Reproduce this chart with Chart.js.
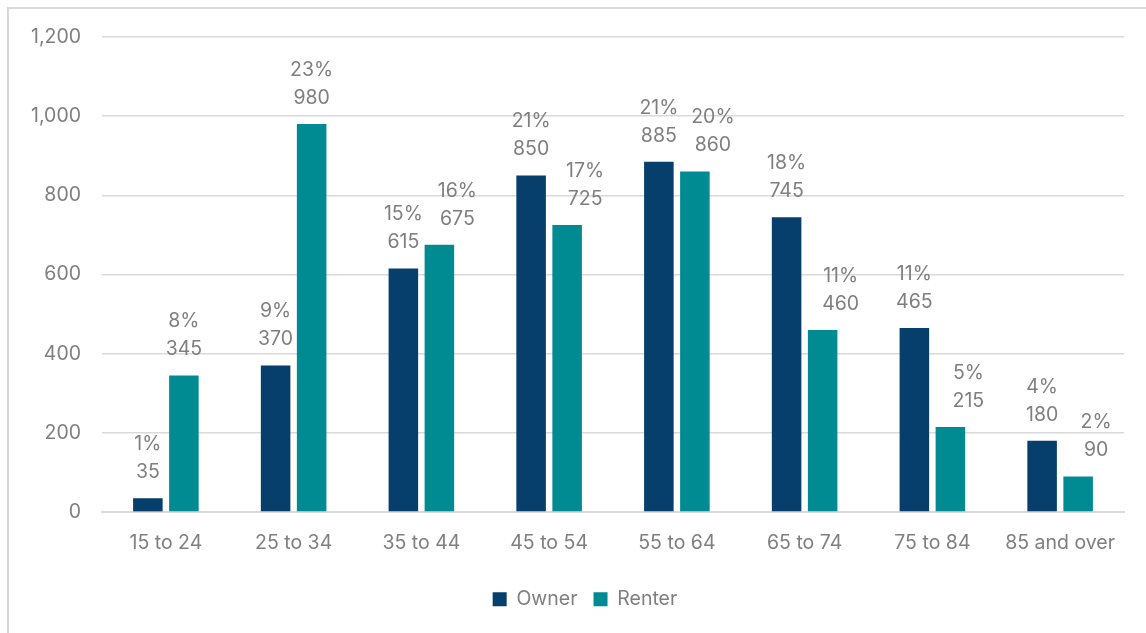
<!DOCTYPE html>
<html lang="en">
<head>
    <meta charset="UTF-8">
    <title>Owner and Renter by Age</title>
    <script src="https://cdn.jsdelivr.net/npm/chart.js"></script>
    <style>
        body {
            margin: 0;
            padding: 0;
            background: #ffffff;
            overflow: hidden;
        }
        .frame {
            position: absolute;
            left: 7px;
            top: 7px;
            width: 1150px;
            height: 640px;
            border-left: 2px solid #d9d9d9;
            border-top: 2px solid #d9d9d9;
        }
        #chartWrap {
            position: absolute;
            left: 0;
            top: 0;
            width: 1146px;
            height: 633px;
        }
    </style>
</head>
<body>
    <div class="frame"></div>
    <div id="chartWrap">
        <canvas id="ageChart" width="1146" height="633"></canvas>
    </div>
    <script>
        const ageGroups = ['15 to 24', '25 to 34', '35 to 44', '45 to 54', '55 to 64', '65 to 74', '75 to 84', '85 and over'];
        const ownerValues = [35, 370, 615, 850, 885, 745, 465, 180];
        const renterValues = [345, 980, 675, 725, 860, 460, 215, 90];
        const ownerShare = ['1%', '9%', '15%', '21%', '21%', '18%', '11%', '4%'];
        const renterShare = ['8%', '23%', '16%', '17%', '20%', '11%', '5%', '2%'];
        const yTicks = [0, 200, 400, 600, 800, 1000, 1200];

        const textColor = '#7f7f7f';
        const fontFamily = 'Inter, "Open Sans", sans-serif';
        const fontSize = 19.5;

        // two line label above each bar: share on top, count below.
        // renter labels slide right when they would sit among the owner labels
        const barLabels = {
            id: 'barLabels',
            afterDatasetsDraw(chart) {
                const ctx = chart.ctx;
                const shares = [ownerShare, renterShare];
                ctx.save();
                ctx.font = fontSize + 'px ' + fontFamily;
                ctx.fillStyle = textColor;
                ctx.textAlign = 'center';
                ctx.textBaseline = 'middle';
                chart.data.datasets.forEach((ds, i) => {
                    const meta = chart.getDatasetMeta(i);
                    meta.data.forEach((bar, j) => {
                        let x = bar.x;
                        if (i === 1 && renterValues[j] < ownerValues[j] + 100) {
                            x += 18;
                        }
                        ctx.fillText(ds.data[j].toLocaleString('en-US'), x, bar.y - 26);
                        ctx.fillText(shares[i][j], x, bar.y - 54);
                    });
                });
                ctx.restore();
            }
        };

        // the legend sits a little right of the canvas middle
        const legendNudge = {
            id: 'legendNudge',
            afterLayout(chart) {
                chart.legend.left += 23;
                chart.legend.right += 23;
            }
        };

        const ctx = document.getElementById('ageChart').getContext('2d');
        new Chart(ctx, {
            type: 'bar',
            data: {
                labels: ageGroups,
                datasets: [
                    {
                        label: 'Owner',
                        data: ownerValues,
                        backgroundColor: '#063f6b',
                        categoryPercentage: 0.564,
                        barPercentage: 0.82
                    },
                    {
                        label: 'Renter',
                        data: renterValues,
                        backgroundColor: '#008b93',
                        categoryPercentage: 0.564,
                        barPercentage: 0.82
                    }
                ]
            },
            options: {
                responsive: false,
                animation: false,
                layout: {
                    padding: { top: 37, right: 22, bottom: 14, left: 0 }
                },
                plugins: {
                    legend: {
                        position: 'bottom',
                        labels: {
                            boxWidth: 14,
                            boxHeight: 14,
                            padding: 16,
                            color: textColor,
                            font: { family: fontFamily, size: fontSize }
                        }
                    },
                    tooltip: { enabled: false }
                },
                scales: {
                    x: {
                        grid: { display: false, drawTicks: false },
                        border: { color: '#d9d9d9', width: 2 },
                        ticks: {
                            padding: 19,
                            color: textColor,
                            font: { family: fontFamily, size: fontSize }
                        }
                    },
                    y: {
                        min: 0,
                        max: 1200,
                        afterBuildTicks(scale) {
                            scale.ticks = yTicks.map(v => ({ value: v }));
                        },
                        afterFit(scale) {
                            scale.width = 102;
                        },
                        grid: { color: '#d9d9d9', lineWidth: 1.5, drawTicks: false },
                        border: { display: false },
                        ticks: {
                            padding: 21,
                            color: textColor,
                            font: { family: fontFamily, size: fontSize },
                            callback: v => v.toLocaleString('en-US')
                        }
                    }
                }
            },
            plugins: [barLabels, legendNudge]
        });
    </script>
</body>
</html>
